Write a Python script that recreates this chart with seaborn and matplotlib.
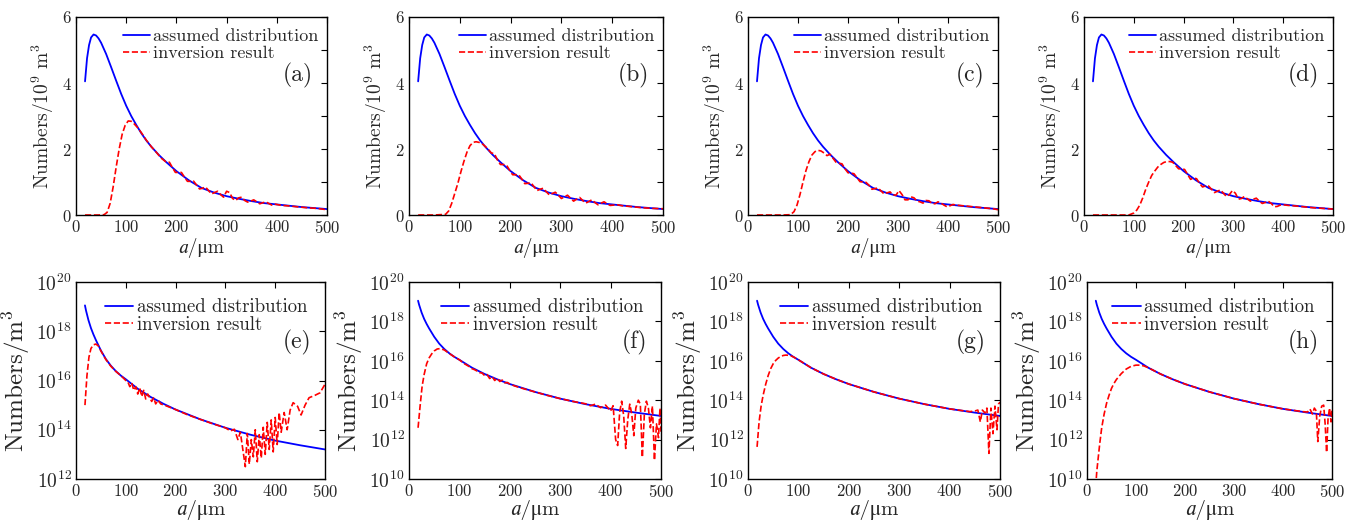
import numpy as np
import matplotlib
matplotlib.use("Agg")
import matplotlib.pyplot as plt
import seaborn as sns
from matplotlib.ticker import FixedLocator, NullLocator, LogFormatterMathtext

# ---------------- data ----------------
# assumed distribution, linear panels (units of 10^9 m^-3): (a [um], value)
blue_lin_pts = [(18, 4.05), (22, 4.75), (26, 5.15), (30, 5.38), (35, 5.47), (40, 5.44), (45, 5.35),
                (50, 5.22), (60, 4.88), (70, 4.48), (80, 4.07), (90, 3.67), (100, 3.31), (110, 3.0),
                (120, 2.73), (130, 2.48), (140, 2.26), (150, 2.07), (165, 1.82), (180, 1.6),
                (200, 1.33), (225, 1.05), (250, 0.82), (275, 0.68), (300, 0.57), (325, 0.49),
                (350, 0.42), (375, 0.36), (400, 0.32), (450, 0.24), (500, 0.18)]

# inversion results, linear panels
red_a_pts = [(18, 0), (45, 0), (56, 0.01), (62, 0.08), (68, 0.35), (74, 0.85), (80, 1.45), (86, 2.0),
             (92, 2.45), (98, 2.72), (104, 2.85), (110, 2.84), (116, 2.76), (122, 2.66), (130, 2.5),
             (140, 2.27), (150, 2.07), (160, 1.9), (170, 1.72), (180, 1.60), (186, 1.60), (192, 1.44),
             (198, 1.29), (204, 1.29), (210, 1.29), (216, 1.15), (222, 1.02), (228, 1.02), (234, 1.03),
             (240, 0.91), (246, 0.79), (252, 0.81), (258, 0.85), (264, 0.74), (270, 0.64), (276, 0.68),
             (282, 0.72), (288, 0.62), (294, 0.54), (300, 0.72), (306, 0.68), (312, 0.50), (318, 0.44),
             (324, 0.52), (330, 0.54), (336, 0.44), (342, 0.39), (348, 0.42), (354, 0.46), (360, 0.40),
             (366, 0.34), (372, 0.37), (378, 0.40), (384, 0.35), (390, 0.30), (396, 0.33), (410, 0.29),
             (420, 0.28), (440, 0.25), (460, 0.22), (480, 0.20), (495, 0.17), (500, 0.22)]

red_b_pts = [(18, 0), (50, 0), (72, 0.02), (78, 0.12), (84, 0.35), (90, 0.65), (96, 0.95), (102, 1.3),
             (108, 1.62), (114, 1.9), (120, 2.1), (126, 2.2), (132, 2.22), (138, 2.2), (144, 2.16),
             (150, 2.08), (156, 1.99), (162, 1.88), (168, 1.86), (174, 1.67), (180, 1.53), (186, 1.53),
             (192, 1.51), (198, 1.36), (204, 1.22), (210, 1.22), (216, 1.22), (222, 1.09), (228, 0.95),
             (234, 0.96), (240, 0.98), (246, 0.86), (252, 0.74), (258, 0.78), (264, 0.81), (270, 0.71),
             (276, 0.61), (282, 0.65), (288, 0.69), (294, 0.60), (300, 0.50), (306, 0.55), (312, 0.60),
             (318, 0.51), (324, 0.42), (330, 0.48), (336, 0.53), (342, 0.44), (348, 0.36), (354, 0.41),
             (360, 0.46), (366, 0.38), (372, 0.31), (378, 0.36), (384, 0.40), (390, 0.34), (396, 0.29),
             (410, 0.31), (420, 0.28), (440, 0.25), (460, 0.22), (480, 0.20), (500, 0.19)]

red_c_pts = [(18, 0), (70, 0), (85, 0.01), (92, 0.1), (98, 0.3), (104, 0.62), (110, 1.0), (116, 1.35),
             (122, 1.62), (128, 1.82), (134, 1.92), (140, 1.96), (146, 1.94), (152, 1.88), (158, 1.8),
             (164, 1.84), (170, 1.72), (176, 1.60), (182, 1.57), (188, 1.55), (194, 1.40), (200, 1.28),
             (206, 1.27), (212, 1.25), (218, 1.13), (224, 1.01), (230, 1.00), (236, 0.99), (242, 0.90),
             (248, 0.78), (254, 0.80), (260, 0.82), (266, 0.73), (272, 0.64), (278, 0.67), (284, 0.70),
             (290, 0.61), (296, 0.60), (302, 0.74), (308, 0.62), (314, 0.46), (320, 0.46), (326, 0.55),
             (332, 0.52), (338, 0.42), (344, 0.40), (350, 0.36), (356, 0.44), (362, 0.43), (368, 0.35),
             (374, 0.34), (380, 0.40), (386, 0.36), (392, 0.30), (398, 0.25), (404, 0.28), (410, 0.32),
             (416, 0.30), (430, 0.28), (450, 0.25), (470, 0.22), (490, 0.19), (500, 0.16)]

red_d_pts = [(18, 0), (90, 0), (100, 0.06), (106, 0.15), (112, 0.3), (118, 0.52), (124, 0.78),
             (130, 1.0), (136, 1.2), (142, 1.33), (148, 1.45), (154, 1.53), (160, 1.59), (166, 1.62),
             (172, 1.62), (178, 1.60), (184, 1.50), (190, 1.40), (196, 1.40), (202, 1.38), (208, 1.23),
             (214, 1.08), (220, 1.12), (226, 1.10), (232, 0.96), (238, 0.85), (244, 0.88), (250, 0.88),
             (256, 0.78), (262, 0.68), (268, 0.72), (274, 0.76), (280, 0.66), (286, 0.56), (292, 0.62),
             (298, 0.74), (304, 0.66), (310, 0.48), (316, 0.50), (322, 0.56), (328, 0.49), (334, 0.42),
             (340, 0.48), (346, 0.51), (352, 0.42), (358, 0.35), (364, 0.38), (370, 0.42), (376, 0.35),
             (382, 0.25), (388, 0.26), (394, 0.30), (400, 0.31), (410, 0.29), (420, 0.28), (440, 0.25),
             (460, 0.22), (480, 0.20), (500, 0.18)]

# assumed distribution, log panels: (a [um], log10 of Numbers/m^3)
blue_log_pts = [(18, 19.05), (20, 18.85), (25, 18.45), (30, 18.13), (35, 17.87), (40, 17.64),
                (50, 17.22), (60, 16.87), (70, 16.6), (80, 16.38), (90, 16.2), (100, 16.05),
                (125, 15.65), (150, 15.33), (175, 15.06), (200, 14.82), (250, 14.42), (300, 14.08),
                (350, 13.8), (400, 13.56), (450, 13.37), (500, 13.2)]

red_e_pts = [(18, 15.0), (22, 16.2), (26, 16.95), (30, 17.3), (35, 17.45), (40, 17.48), (45, 17.4),
             (50, 17.2), (60, 16.85), (70, 16.58), (80, 16.37), (90, 16.2), (100, 16.0), (104, 15.95),
             (108, 15.75), (112, 15.9), (116, 15.6), (120, 15.75), (124, 15.45), (128, 15.7),
             (132, 15.35), (136, 15.6), (140, 15.25), (144, 15.45), (148, 15.3), (152, 15.15),
             (156, 15.3), (160, 15.05), (165, 15.2), (170, 15.05), (180, 14.98), (200, 14.82),
             (225, 14.6), (250, 14.42), (275, 14.24), (300, 14.08), (310, 13.95), (318, 14.02),
             (325, 13.6), (330, 13.9), (335, 13.2), (340, 12.5), (344, 13.85), (348, 12.6),
             (352, 13.6), (356, 12.9), (360, 14.0), (364, 12.7), (368, 13.8), (372, 12.85),
             (376, 14.1), (380, 13.0), (384, 14.3), (388, 13.2), (392, 14.4), (396, 13.1), (400, 14.5),
             (404, 13.4), (408, 14.7), (412, 13.9), (418, 14.7), (424, 14.0), (430, 14.8), (436, 15.1),
             (445, 14.95), (452, 14.6), (460, 15.0), (468, 15.3), (480, 15.4), (490, 15.5), (500, 15.85)]

red_f_pts = [(18, 12.6), (22, 13.7), (26, 14.7), (30, 15.3), (35, 15.85), (40, 16.15), (45, 16.35),
             (50, 16.5), (56, 16.6), (62, 16.62), (70, 16.55), (80, 16.37), (90, 16.2), (100, 16.05),
             (110, 15.85), (120, 15.7), (125, 15.6), (130, 15.55), (135, 15.48), (140, 15.4),
             (145, 15.38), (150, 15.25), (155, 15.3), (160, 15.1), (165, 15.2), (170, 15.0),
             (175, 15.12), (180, 14.95), (185, 15.02), (190, 14.88), (195, 14.9), (200, 14.82),
             (210, 14.72), (225, 14.6), (250, 14.42), (275, 14.24), (300, 14.08), (325, 13.94),
             (350, 13.82), (360, 13.72), (370, 13.8), (380, 13.62), (390, 13.75), (400, 13.45),
             (405, 13.72), (410, 12.0), (414, 11.7), (418, 13.4), (422, 13.95), (426, 13.2),
             (430, 11.55), (434, 13.0), (438, 13.8), (442, 13.3), (446, 12.2), (450, 13.6), (455, 14.0),
             (459, 13.8), (463, 11.1), (467, 13.3), (471, 13.95), (475, 13.6), (479, 12.6), (483, 13.7),
             (487, 10.95), (491, 12.8), (495, 12.1), (498, 13.6), (500, 12.4)]

red_g_pts = [(18, 11.63), (22, 12.9), (26, 13.7), (30, 14.25), (35, 14.8), (40, 15.25), (45, 15.6),
             (50, 15.85), (55, 16.02), (60, 16.14), (65, 16.22), (70, 16.27), (75, 16.29), (80, 16.28),
             (85, 16.25), (90, 16.2), (100, 16.05), (125, 15.65), (150, 15.33), (175, 15.06),
             (200, 14.82), (250, 14.42), (300, 14.08), (350, 13.8), (400, 13.56), (440, 13.42),
             (450, 13.45), (456, 13.5), (461, 12.9), (465, 13.5), (470, 13.35), (474, 13.6), (478, 11.3),
             (482, 13.6), (486, 12.3), (490, 13.7), (494, 12.5), (497, 13.8), (500, 13.9)]

red_h_pts = [(19, 10.05), (20, 10.4), (23, 11.1), (26, 11.8), (30, 12.6), (35, 13.3), (40, 13.85),
             (45, 14.25), (50, 14.6), (55, 14.85), (60, 15.05), (70, 15.35), (80, 15.58), (90, 15.72),
             (100, 15.78), (108, 15.78), (116, 15.74), (125, 15.65), (150, 15.33), (175, 15.06),
             (200, 14.82), (250, 14.42), (300, 14.08), (350, 13.8), (400, 13.56), (440, 13.42),
             (450, 13.4), (455, 13.55), (460, 13.3), (464, 13.6), (468, 13.45), (471, 11.9), (475, 13.2),
             (479, 13.7), (483, 13.75), (486, 12.8), (489, 11.35), (492, 13.1), (495, 13.6), (498, 12.9),
             (500, 13.5)]

top_labels = ["(a)", "(b)", "(c)", "(d)"]
bottom_labels = ["(e)", "(f)", "(g)", "(h)"]
legend_labels = ["assumed distribution", "inversion result"]
x_ticks = [0, 100, 200, 300, 400, 500]
lin_y_ticks = [0, 2, 4, 6]
log_ymin = [12, 10, 10, 10]

# ---------------- style ----------------
sns.set_theme(style="white")
plt.rcParams["font.family"] = ["cmr10", "STIXGeneral", "DejaVu Serif"]
plt.rcParams["mathtext.fontset"] = "cm"
plt.rcParams["axes.formatter.use_mathtext"] = True
plt.rcParams["axes.unicode_minus"] = False

BLUE = "#0000ff"
RED = "#ff0000"
XLABEL = "\U0001D44E/\u03bcm"   # italic a / upright mu m

fig = plt.figure(figsize=(13.64, 5.23), dpi=100)
W, H = 1364.0, 523.0

top_px = [(76, 251), (409, 254), (748, 250), (1084, 249)]
bot_px = [(76, 249), (409, 252), (748, 252), (1087, 245)]

red_top = [red_a_pts, red_b_pts, red_c_pts, red_d_pts]
red_bot = [red_e_pts, red_f_pts, red_g_pts, red_h_pts]


def unzip(pts):
    xs, ys = zip(*pts)
    return np.array(xs, float), np.array(ys, float)


def style_axes(ax):
    for s in ax.spines.values():
        s.set_linewidth(1.0)
        s.set_color("black")
    ax.tick_params(which="both", direction="in", top=True, right=True, length=4,
                   width=0.8, color="black", pad=3)


bx, bv = unzip(blue_lin_pts)
for i in range(4):
    l, w = top_px[i]
    ax = fig.add_axes([l / W, 1 - 215 / H, w / W, 198 / H])
    rx, rv = unzip(red_top[i])
    sns.lineplot(x=bx, y=bv, ax=ax, color=BLUE, linewidth=1.3,
                 label=legend_labels[0], estimator=None, sort=False)
    sns.lineplot(x=rx, y=rv, ax=ax, color=RED, linewidth=1.2, linestyle="--",
                 label=legend_labels[1], estimator=None, sort=False)
    ax.set_xlim(0, 500)
    ax.set_ylim(0, 6)
    ax.set_xticks(x_ticks)
    ax.set_yticks(lin_y_ticks)
    ax.yaxis.set_minor_locator(FixedLocator([1, 3, 5]))
    ax.tick_params(axis="both", labelsize=12)
    style_axes(ax)
    ax.set_xlabel(XLABEL, fontsize=14, labelpad=1)
    ax.set_ylabel(r"Numbers/$10^9$ m$^3$", fontsize=14, labelpad=4)
    ax.legend(loc="upper right", bbox_to_anchor=(1.01, 0.995), frameon=False, fontsize=13,
              handlelength=1.5, handletextpad=0.2, labelspacing=0.05, borderaxespad=0.2)
    ax.text(0.945, 0.707, top_labels[i], transform=ax.transAxes, ha="right", va="center",
            fontsize=17)

gx, ge = unzip(blue_log_pts)
for i in range(4):
    l, w = bot_px[i]
    ax = fig.add_axes([l / W, 1 - 479 / H, w / W, 197 / H])
    rx, re = unzip(red_bot[i])
    sns.lineplot(x=gx, y=np.power(10.0, ge), ax=ax, color=BLUE, linewidth=1.3,
                 label=legend_labels[0], estimator=None, sort=False)
    sns.lineplot(x=rx, y=np.power(10.0, re), ax=ax, color=RED, linewidth=1.2, linestyle="--",
                 label=legend_labels[1], estimator=None, sort=False)
    ax.set_yscale("log")
    ax.set_xlim(0, 500)
    ax.set_ylim(10.0 ** log_ymin[i], 1e20)
    ax.set_xticks(x_ticks)
    ax.yaxis.set_major_locator(FixedLocator([10.0 ** k for k in range(log_ymin[i], 21, 2)]))
    ax.yaxis.set_major_formatter(LogFormatterMathtext())
    ax.yaxis.set_minor_locator(NullLocator())
    ax.tick_params(axis="x", labelsize=12)
    ax.tick_params(axis="y", labelsize=14)
    style_axes(ax)
    ax.set_xlabel(XLABEL, fontsize=15, labelpad=0)
    ax.set_ylabel(r"Numbers/m$^3$", fontsize=18, labelpad=3)
    ax.legend(loc="upper right", bbox_to_anchor=(0.975, 0.975), frameon=False, fontsize=13.5,
              handlelength=1.5, handletextpad=0.2, labelspacing=0.0, borderaxespad=0.2)
    ax.text(0.945, 0.695, bottom_labels[i], transform=ax.transAxes, ha="right", va="center",
            fontsize=17)

fig.savefig("out.png", dpi=100)
